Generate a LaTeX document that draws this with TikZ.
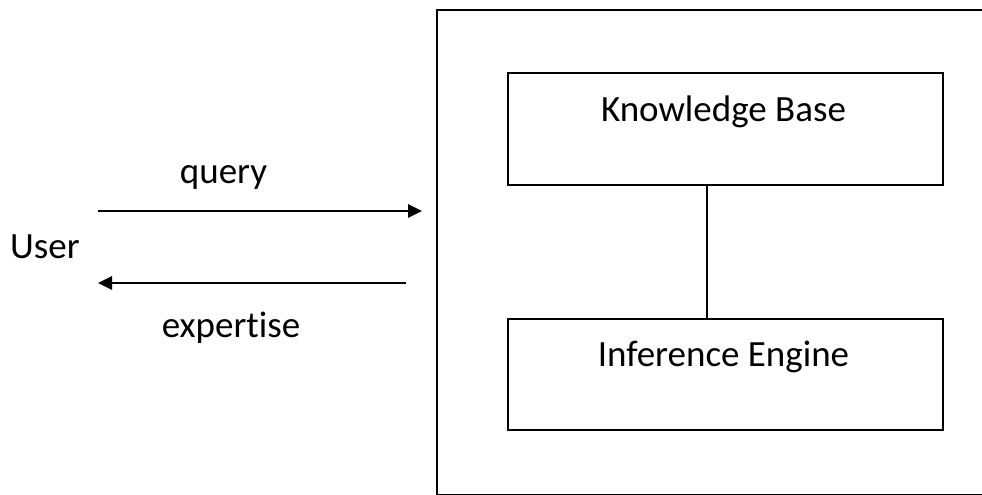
\documentclass[tikz,border=0pt]{standalone}
\usepackage{fontspec}
\setmainfont{Carlito}[Ligatures={NoCommon}]
\usetikzlibrary{arrows.meta}
\begin{document}
\begin{tikzpicture}[x=1pt,y=-1pt,
  outline/.style={draw=black,line width=2.8pt},
  block/.style={outline,rectangle,inner sep=0pt,minimum width=435pt},
  word/.style={inner sep=0pt,font=\fontsize{37}{44}\selectfont},
  flow/.style={line width=2.8pt,-{Triangle[length=14pt,width=13pt]}}]
  \useasboundingbox (0,0) rectangle (982,495);
  \clip (0,0) rectangle (982,495);

  % enclosing system frame, running past the right and bottom edges
  \draw[outline] (437,10) rectangle (1000,495.8);

  % the two components
  \node[block,minimum height=112pt] (kb) at (725.5,129) {};
  \node[block,minimum height=111pt] (ie) at (725.5,374.5) {};
  \node[word,anchor=base] (kbtext) at (723.5,121) {Knowledge Base};
  \node[word,anchor=base] (ietext) at (723.5,366) {Inference Engine};
  \coordinate (link) at (707,250);
  \draw[outline] (kb.south -| link) -- (ie.north -| link);

  % user side
  \node[word,anchor=base west] (user) at (10,258) {User};
  \node[word,anchor=base] (query) at (223.5,183) {query};
  \node[word,anchor=base] (expertise) at (231,337) {expertise};

  \coordinate (qstart) at (98,211);
  \coordinate (qend) at (422,211);
  \coordinate (estart) at (406,283);
  \coordinate (eend) at (98,283);
  \draw[flow] (qstart) -- (qend);
  \draw[flow] (estart) -- (eend);
\end{tikzpicture}
\end{document}
